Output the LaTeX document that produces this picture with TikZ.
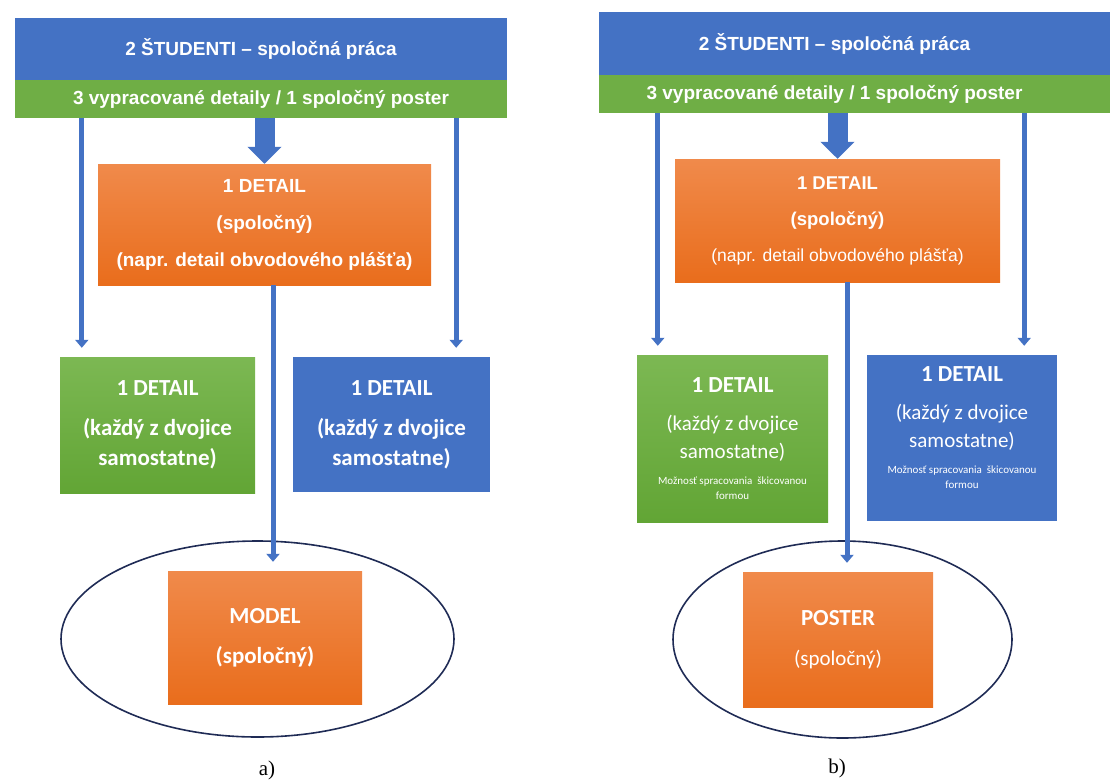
\documentclass[tikz,border=0pt]{standalone}
\usepackage{fontspec}
\setmainfont{Liberation Serif}
\newfontfamily\arialf{Liberation Sans}
\newfontfamily\calibf{Carlito}
\usepackage{xcolor}
\usetikzlibrary{arrows.meta,shapes.geometric}
\definecolor{hdrblue}{HTML}{4472C4}
\definecolor{bandgreen}{HTML}{6FAE45}
\definecolor{orgtop}{HTML}{F08A4B}
\definecolor{orgbot}{HTML}{E96D1C}
\definecolor{grntop}{HTML}{7CB853}
\definecolor{grnbot}{HTML}{62A535}
\definecolor{arrblue}{HTML}{4472C4}
\definecolor{ringnavy}{HTML}{1F2B55}

\begin{document}
\begin{tikzpicture}[x=1pt,y=-1pt,
  hdrbox/.style={fill=hdrblue,text=white,inner sep=0pt,font=\arialf\bfseries\fontsize{19}{23}\selectfont},
  bandbox/.style={fill=bandgreen,text=white,inner sep=0pt,font=\arialf\bfseries\fontsize{19}{23}\selectfont},
  orgbox/.style={top color=orgtop,bottom color=orgbot,text=white,inner sep=0pt,align=center},
  grnbox/.style={top color=grntop,bottom color=grnbot,text=white,inner sep=0pt,align=center},
  blubox/.style={fill=hdrblue,text=white,inner sep=0pt,align=center},
  ring/.style={ellipse,draw=ringnavy,line width=1.6pt,inner sep=0pt},
  arr/.style={draw=arrblue,line width=5pt,-{Triangle[width=13pt,length=8pt]},shorten >=9pt},
  bigarr/.style={draw=arrblue,line width=20pt,-{Triangle[width=33pt,length=17pt]}},
  lab/.style={font=\fontsize{21}{25}\selectfont}]
\useasboundingbox (0,0) rectangle (1110,782);

% a)
\node[hdrbox,minimum width=492,minimum height=62] (hdrA) at (261,49) {2 ŠTUDENTI – spoločná práca};
\node[bandbox,minimum width=492,minimum height=38] (bandA) at (261,99) {3 vypracované detaily / 1 spoločný poster};
\node[orgbox,minimum width=333,minimum height=121,font=\arialf\bfseries\fontsize{19}{37}\selectfont] (orgA) at (264.5,224.5)
  {1 DETAIL\\(spoločný)\\(napr. detail obvodového plášťa)};
\node[grnbox,minimum width=195,minimum height=136,font=\calibf\bfseries\fontsize{23}{30}\selectfont] (grnA) at (157.5,425)
  {1 DETAIL\\[10pt](každý z dvojice\\samostatne)};
\node[blubox,minimum width=197,minimum height=135,font=\calibf\bfseries\fontsize{23}{30}\selectfont] (bluA) at (391.5,424.5)
  {1 DETAIL\\[10pt](každý z dvojice\\samostatne)};
\node[orgbox,minimum width=194,minimum height=133,font=\calibf\bfseries\fontsize{23}{40}\selectfont] (modA) at (265,637.5)
  {MODEL\\(spoločný)};
\node[ring,minimum width=393,minimum height=196] (ringA) at (257.5,639) {};
\node[lab] (labA) at (267,770) {a)};

\draw[bigarr] (bandA.south -| orgA.north) -- (orgA.north);
\draw[arr] ([xshift=22]grnA.north west |- bandA.south) -- ([xshift=22]grnA.north west);
\draw[arr] ([xshift=-34]bluA.north east |- bandA.south) -- ([xshift=-34]bluA.north east);
\draw[arr] ([xshift=8.5]orgA.south) -- ([xshift=8.5]orgA.south |- modA.north);

% b)
\node[hdrbox,minimum width=513,minimum height=63] (hdrB) at (855.5,43.5) {2 ŠTUDENTI – spoločná práca\hspace*{42pt}};
\node[bandbox,minimum width=513,minimum height=38] (bandB) at (855.5,94) {3 vypracované detaily / 1 spoločný poster\hspace*{42pt}};
\node[orgbox,minimum width=325,minimum height=123,font=\arialf\bfseries\fontsize{18.5}{36}\selectfont] (orgB) at (837.5,220.5)
  {1 DETAIL\\(spoločný)\\\mdseries\fontsize{17.5}{36}\selectfont (napr. detail obvodového plášťa)};
\node[grnbox,minimum width=191,minimum height=167,font=\calibf\fontsize{21}{28}\selectfont] (grnB) at (732.5,438.5)
  {\bfseries\fontsize{23}{28}\selectfont 1 DETAIL\\[10pt](každý z dvojice\\samostatne)\\[-2pt]
   \fontsize{11}{15}\selectfont Možnosť spracovania\ \ škicovanou\\[-13pt]\fontsize{11}{15}\selectfont formou};
\node[blubox,minimum width=190,minimum height=166,font=\calibf\fontsize{21}{28}\selectfont] (bluB) at (962,438)
  {\bfseries\fontsize{23}{28}\selectfont 1 DETAIL\\[10pt](každý z dvojice\\samostatne)\\[-2pt]
   \fontsize{11}{15}\selectfont Možnosť spracovania\ \ škicovanou\\[-13pt]\fontsize{11}{15}\selectfont formou\\[-8pt]};
\node[orgbox,minimum width=190,minimum height=135,font=\calibf\fontsize{21}{40}\selectfont] (posB) at (838,639.5)
  {\bfseries\fontsize{23}{40}\selectfont POSTER\\(spoločný)};
\node[ring,minimum width=339,minimum height=197] (ringB) at (842.5,639.5) {};
\node[lab] (labB) at (837,768) {b)};

\draw[bigarr] (bandB.south -| orgB.north) -- (orgB.north);
\draw[arr] ([xshift=21]grnB.north west |- bandB.south) -- ([xshift=21]grnB.north west);
\draw[arr] ([xshift=-33]bluB.north east |- bandB.south) -- ([xshift=-33]bluB.north east);
\draw[arr] ([xshift=9.5]orgB.south) -- ([xshift=9.5]orgB.south |- posB.north);
\end{tikzpicture}
\end{document}
